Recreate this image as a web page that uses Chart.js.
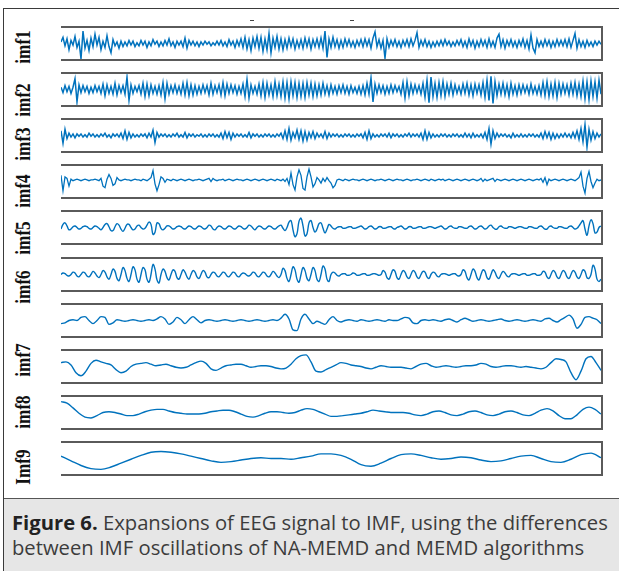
<!DOCTYPE html>
<html><head><meta charset="utf-8">
<script src="https://cdn.jsdelivr.net/npm/chart.js@4.4.1/dist/chart.umd.min.js"></script>
<style>
html,body{margin:0;padding:0;background:#fff;}
body{width:619px;height:571px;position:relative;overflow:hidden;}
#frame{position:absolute;left:3px;top:8px;width:616px;height:563px;border-left:1px solid #3a3a3a;border-top:1px solid #3a3a3a;box-sizing:border-box;}
.panel{position:absolute;left:61px;width:542px;height:35px;box-sizing:border-box;border-top:2px solid #5a5a5a;border-bottom:2px solid #5a5a5a;border-right:2px solid #5a5a5a;}
.panel canvas{display:block;}
.lab{position:absolute;left:23px;transform:translate(-50%,-50%) rotate(-90deg) scale(0.86,1);font:bold 20px "Liberation Serif";white-space:nowrap;color:#111;line-height:1;}
.tick{position:absolute;top:20px;width:4px;height:1px;background:#444;}
#cap{position:absolute;left:4px;top:498px;width:615px;height:73px;background:#e6e6e6;border-top:1px solid #555;box-sizing:border-box;}
#capText{position:absolute;left:8px;top:11px;font-family:"Open Sans";font-size:20px;line-height:25px;color:#3c3c3c;white-space:nowrap;}
#capText b{color:#222;}
</style>
</head><body>
<div id="frame"></div>
<div class="tick" style="left:250px"></div>
<div class="tick" style="left:350px"></div>
<div id="cap"><div id="capText"><b>Figure 6.</b> Expansions of EEG signal to IMF, using the differences<br>between IMF oscillations of NA-MEMD and MEMD algorithms</div></div>
<script>
// ---- data (values in arbitrary amplitude units, uniformly sampled in time) ----
const axisLabels = ['imf1','imf2','imf3','imf4','imf5','imf6','imf7','imf8','Imf9'];

const comp1 = [2,8,-3,6,-8,4,-2,9,-5,3, -20,16,-6,4,-9,7,-4,12,-2,8, -8,3,-5,10,-4,-12,5,-3,2,-6, 3,-4,2,-3,4,-2,3,-4,1,-3,
 4,-2,3,-5,2,-3,5,-1,3,-4, 2,-3,4,-2,6,-3,2,-5,3,-2, 3,-4,7,-6,4,-2,3,-3,2,-4, 2,-2,3,-1,2,-3,1,-2,3,-2,
 4,-3,2,-4,5,-2,3,-5,4,-3, 6,-5,8,-7,5,-9,7,-4,9,-6, 8,-10,6,-8,13,-12,7,-5,9,-7, 6,-8,5,-6,7,-4,6,-7,4,-5,
 5,-6,7,-4,6,-7,5,-4,6,-5, 7,-6,16,-18,6,-5,8,-4,5,-6, 4,-5,6,-3,5,-4,3,-5,4,-3, 5,-4,6,-3,5,-6,7,15,-4,5,
 -6,4,-19,6,-5,4,-3,5,-4,3, -5,4,-3,5,-4,6,-3,4,14,-5, 4,-3,5,-4,3,-5,2,-4,3,-3, 4,-3,5,-2,3,-4,2,-3,4,-2,
 5,-4,3,-5,6,-3,4,-6,3,-4, 5,-3,4,-5,6,-4,3,-5,7,12, -4,5,-6,4,-3,5,-4,3,-5,4, -3,6,-5,4,-7,11,-6,-12,5,-4,
 3,-4,5,-3,4,-5,3,-4,5,-3, 4,-3,5,-4,6,-5,4,13,-6,5, -4,3,-5,4,-3,2,-4,3,-2,3, -1];

const comp2 = [3,-4,5,-3,4,-5,3,14,-16,6, -4,5,-3,4,-5,3,-4,5,-3,4, -5,7,-8,6,-5,4,-6,8,-7,5, -4,5,-6,16,-14,6,-5,4,-3,5,
 -6,8,-9,7,-8,6,-5,4,-6,5, -7,9,-12,8,-6,5,-4,6,-5,4, -6,8,-7,9,-8,6,-7,5,-6,4, -5,6,-4,5,-7,8,-6,5,-4,6,
 -7,9,-8,7,-5,6,-4,5,-6,4, -5,7,-9,13,-11,6,-5,4,-6,7, -8,9,-10,8,-7,6,-9,10,-8,7, -9,10,-11,9,-12,10,-8,9,-10,8,
 -9,8,-10,9,-7,8,-9,7,-8,6, -7,8,-6,5,-7,6,-5,4,-6,5, -4,6,-5,4,-6,5,-4,3,-5,4, -6,5,-7,8,-6,15,-16,7,-5,6,
 -4,5,-6,4,-5,6,-4,5,-3,4, -6,9,-11,10,-8,7,-5,6,-4,5, -6,8,-10,12,-17,16,-9,8,-10,9, -8,10,-9,7,-6,8,-7,6,-5,4,
 -6,7,-5,8,-7,6,-8,7,-5,6, -7,9,-10,12,-14,17,-18,10,-8,7, -6,8,-7,6,-9,8,-6,5,-7,6, -5,6,-4,5,-6,7,-5,4,-6,5,
 -7,9,-8,10,-9,7,-8,9,-10,8, -6,7,-5,6,-7,8,-6,9,-8,7, -9,11,-12,10,-13,11,-9,10,-11,12, -6];

const comp3 = [6,-10,8,-4,3,-2,2,-3,2,-1, 2,-2,1,-2,3,-1,2,-2,1,-2, 2,-1,3,-2,1,-3,2,-1,2,-2, 3,-4,6,-5,4,-3,2,-2,1,-2,
 2,-1,2,-3,3,-2,7,-9,4,-2, 2,-1,2,-2,1,-2,2,-1,3,-2, 1,-2,4,-3,2,-1,2,-2,1,-1, 2,-2,1,-2,2,-1,2,-2,1,-2,
 3,-4,5,-3,4,-5,3,-2,2,-1, 2,-2,1,-2,4,-3,2,-1,2,-2, 1,-2,2,-1,2,-2,1,-2,2,-1, 3,-4,6,-5,9,-6,4,-3,7,-5,
 6,-7,5,-6,4,-3,5,-4,3,-2, 2,-3,5,-4,3,-2,2,-1,2,-2, 1,-2,2,-1,2,-2,1,-2,2,-1, 2,-3,4,-5,6,-4,2,-2,1,-2,
 2,-1,2,-2,3,-3,2,-1,2,-2, 1,-2,2,-1,3,-2,2,-1,2,-2, 3,-5,6,-5,4,-3,2,-2,1,-2, 2,-1,2,-2,1,-2,2,-1,2,-2,
 1,-2,3,-2,2,-3,3,-2,1,-2, 2,-3,4,-5,9,-11,6,-4,3,-2, 2,-1,2,-2,1,-3,3,-2,1,-2, 2,-2,1,-2,2,-1,2,-2,1,-2,
 3,-4,5,-3,4,-5,3,-4,2,-3, 2,-2,3,-2,2,-3,4,-3,6,-5, 9,-8,14,-15,8,-6,5,-4,3,-2, 2];

const comp4 = [8,-12,6,4,-6,3,1,2,3,2, 1,2,3,2,1,2,2,3,2,1, 4,-6,-8,3,9,4,-5,-3,5,2, 1,2,3,2,2,1,2,3,2,2,
 1,3,2,1,3,5,14,-3,-12,-4, 6,4,-1,3,2,1,3,2,1,2, 3,2,1,2,3,2,1,2,2,3, 2,1,2,3,4,0,4,2,1,2,
 2,3,1,2,3,2,1,2,3,2, 2,1,2,3,2,1,2,3,2,1, 2,3,2,1,2,3,2,1,3,2, 1,3,0,4,-4,11,-4,-11,6,15,
 8,-9,-11,6,16,6,-7,-3,5,2, -2,4,0,5,1,-2,-8,-5,2,3, 2,1,3,2,1,2,3,2,2,1, 2,3,2,1,2,3,2,1,2,2,
 3,2,1,2,3,2,1,2,3,2, 2,1,2,3,2,1,2,2,3,2, 1,2,3,2,1,3,2,1,2,3, 2,3,1,2,3,2,1,2,3,2,
 1,2,3,2,1,2,3,2,1,2, 4,0,3,1,2,3,4,0,3,2, 1,2,3,2,1,2,3,2,1,2, 3,2,1,2,3,2,1,2,3,2,
 4,-1,5,-4,3,1,2,3,2,1, 2,3,2,1,2,3,2,1,3,5, 12,-6,-15,4,13,0,-8,-2,3,1, 2];

const comp5 = [-2,4,6,2,-3,-2,1,2,0,-2, -1,1,2,1,-1,-2,0,2,1,-1, -3,0,4,5,1,-4,-4,1,5,3, -2,-5,-1,4,4,0,-3,-2,2,3,
 0,-2,-1,3,7,4,-9,-6,6,5, -1,-3,-1,2,2,0,-2,-1,1,2, 1,-1,-2,0,2,1,-1,-2,0,2, 1,-1,-2,0,3,2,-2,-3,0,2,
 1,-1,-2,0,2,1,-1,-2,0,2, 1,-1,-2,0,3,2,-1,-3,0,2, 1,-1,-2,0,2,1,-1,-2,0,2, 3,-1,-4,0,7,9,-3,-12,-8,8,
 12,2,-11,-8,6,9,0,-6,-2,5, 6,-1,-7,-2,4,2,-1,-2,0,1, 1,-1,-1,0,1,1,-1,-1,0,1, 2,0,-2,-1,1,2,0,-2,-1,1,
 1,-1,-1,0,1,1,-1,-2,0,1, 2,0,-2,-1,1,1,-1,-1,0,1, 1,-1,-1,0,1,1,0,-1,0,1, 2,0,-2,-1,1,2,0,-1,-1,1,
 1,0,-1,-1,1,2,0,-2,-1,1, 2,0,-2,-1,2,3,0,-2,-2,1, 2,0,-1,-1,1,1,0,-1,0,1, 1,0,-1,-1,1,1,0,-1,-1,1,
 2,0,-2,-2,1,2,0,-1,-1,1, 1,0,-1,-1,1,2,0,-2,-1,2, 6,9,-2,-10,2,10,5,-7,-6,0, 2];

const comp6 = [0,2,1,-1,-2,0,3,2,-2,-3, 0,3,2,-2,-3,0,4,2,-2,-4, 0,5,3,-3,-6,0,7,4,-5,-8, 0,9,5,-5,-9,0,10,6,-6,-10,
 0,9,6,-6,-10,0,13,7,-7,-11, 0,7,4,-4,-7,0,6,4,-4,-6, 0,6,3,-3,-6,0,5,3,-3,-5, 0,5,3,-3,-4,0,3,2,-2,-3,
 0,3,2,-2,-3,0,3,2,-2,-3, 0,2,1,-1,-2,0,3,2,-2,-3, 0,3,2,-2,-3,0,4,2,-2,-4, 0,8,5,-5,-9,0,10,6,-6,-10,
 0,9,5,-5,-8,0,9,5,-6,-9, 0,11,7,-6,-9,0,3,2,-1,-2, 0,1,1,-1,-1,0,2,1,-1,-1, 0,1,1,-1,-1,0,1,1,0,-1,
 0,5,3,-4,-6,0,6,4,-4,-6, 0,5,3,-3,-5,0,5,3,-3,-5, 0,4,3,-3,-5,0,3,2,-2,-3, 0,1,1,0,-1,0,1,1,-1,-2,
 0,6,4,-4,-7,0,7,4,-4,-7, 0,6,4,-4,-6,0,6,3,-3,-5, 0,4,2,-2,-3,0,1,1,0,-1, 0,1,1,-1,-1,0,1,1,-1,-1,
 0,4,3,-3,-5,0,5,3,-3,-5, 0,5,3,-3,-5,0,5,3,-3,-5, 0,6,4,-4,-5,0,12,7,-6,-9, -6];

const comp7 = [-4,-3,0,1,0,4,5,0,-4,0, 5,4,-5,-3,1,0,-1,0,1,0, -1,0,1,0,2,5,2,-5,-2,4, 1,-4,1,5,1,-3,0,1,0,-1,
 0,1,0,-1,0,1,0,-1,0,1, 0,-1,0,1,0,3,8,2,-12,-13, 2,8,2,-4,-1,-3,-5,1,5,0, -2,0,1,0,-1,1,0,-1,0,1,
 0,-1,1,0,0,2,4,3,-3,-4, 0,1,0,1,0,-1,1,2,0,-2, 1,3,1,-1,0,1,0,-1,0,1, 2,0,-1,0,1,0,-1,0,1,0,
 -1,2,3,0,-2,1,4,7,2,-10, -5,4,5,3,1,-4];

const comp8 = [5,6,2,-8,-12,-6,4,8,6,4, 2,-4,-8,-6,0,3,4,5,3,1, 2,3,1,-1,-2,-1,2,5,7,4, -3,-5,-2,1,2,3,3,1,-1,0,
 1,1,0,-2,-3,-2,3,10,14,15, 6,-6,-7,-4,-1,2,5,4,2,1, 0,-2,-3,-1,1,0,-1,-1,-1,-2, -3,0,3,4,1,-1,0,1,0,-1,
 0,1,1,2,4,3,0,-1,0,1, 1,0,-1,0,-1,-2,-3,-1,5,10, 9,6,-8,-17,-6,10,13,5,-5];

const comp9 = [14,12,6,-1,-6,-7,-4,0,1,0, -2,-4,-4,-2,1,3,4,4,2,0, -1,-2,-2,-2,-1,1,2,3,3,1, -2,-5,-6,-4,-1,1,1,0,-1,0,
 3,5,4,1,-2,-5,-5,-4,-3,-2, -1,1,3,2,1,0,0,0,-1,-3, -4,-2,1,2,0,-3,-4,-2,1,2, 0,-3,-4,-2,1,2,0,-3,-4,-1,
 3,5,2,-4,-8,-8,-3,4,7,4, -2];

const comp10 = [3,-3,-9,-13,-14,-11,-6,-1,4,8, 9,8,6,3,0,-3,-5,-4,-2,0, 1,0,0,-1,1,3,6,6,4,-1,
 -8,-10,-6,0,5,6,4,1,-1,0, 2,1,-2,-4,-3,0,3,4,0,-4, -5,-1,5,7,1];

const components = [comp1,comp2,comp3,comp4,comp5,comp6,comp7,comp8,comp9,comp10];
const ampRange = 20;

// ---- layout ----
const panelTops = [26,72,118,164,210,257,303,349,395,441];
const labelCenters = [47,100,144,191,238,287,360,412,467];
const LINE = '#0072BD';

components.forEach((series, k) => {
  const div = document.createElement('div');
  div.className = 'panel';
  div.style.top = panelTops[k] + 'px';
  const cv = document.createElement('canvas');
  cv.width = 540; cv.height = 31;
  div.appendChild(cv);
  document.body.appendChild(div);
  const smooth = k >= 4;
  new Chart(cv.getContext('2d'), {
    type: 'line',
    data: { datasets: [{
      data: series.map((v, i) => ({ x: i, y: v })),
      borderColor: LINE, borderWidth: k < 3 ? 1.5 : (k < 4 ? 1.3 : 1.4),
      pointRadius: 0, fill: false,
      tension: smooth ? 0.4 : 0,
      cubicInterpolationMode: k >= 6 ? 'monotone' : 'default'
    }]},
    options: {
      animation: false, responsive: false, events: [],
      layout: { padding: 0 },
      plugins: { legend: { display: false }, tooltip: { enabled: false } },
      scales: {
        x: { type: 'linear', display: false, min: 0, max: series.length - 1 },
        y: { display: false, min: -ampRange, max: ampRange }
      }
    }
  });
});

axisLabels.forEach((t, k) => {
  const d = document.createElement('div');
  d.className = 'lab';
  d.textContent = t;
  d.style.top = labelCenters[k] + 'px';
  document.body.appendChild(d);
});

// fit caption first line to reference width
(function fitCaption(){
  const el = document.getElementById('capText');
  const c = document.createElement('canvas').getContext('2d');
  c.font = 'bold 20px "Open Sans"';
  let w = c.measureText('Figure 6.').width;
  c.font = '20px "Open Sans"';
  w += c.measureText(' Expansions of EEG signal to IMF, using the differences').width;
  const target = 596;
  const size = Math.max(14, Math.min(22, 20 * target / w));
  el.style.fontSize = size.toFixed(2) + 'px';
})();
</script>
</body></html>
